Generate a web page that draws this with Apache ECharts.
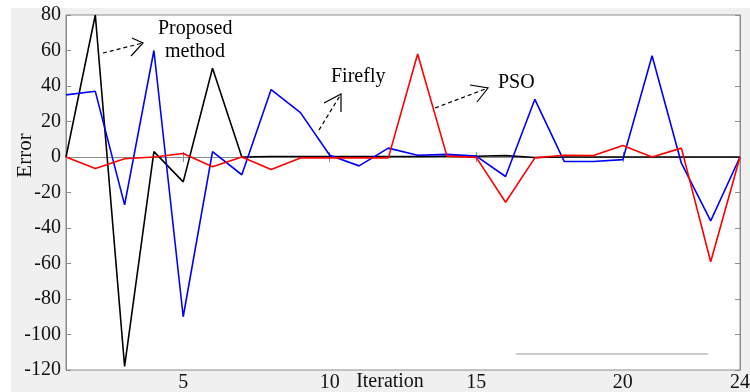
<!DOCTYPE html>
<html>
<head>
<meta charset="utf-8">
<script src="https://cdn.jsdelivr.net/npm/echarts@6/dist/echarts.min.js"></script>
<style>
html,body{margin:0;padding:0;background:#fff;}
#errChart{width:750px;height:392px;}
</style>
</head>
<body>
<div id="errChart"></div>
<script>
// iteration index and the three error curves
var iterations = [1,2,3,4,5,6,7,8,9,10,11,12,13,14,15,16,17,18,19,20,21,22,23,24];
var proposedErr = [0,80,-118,3,-14,50,0,0.3,0.3,0.3,0.3,0.3,0.3,0.4,0.4,0.8,-0.3,0,0,0,0,0,0,0];
var fireflyErr = [35,37,-27,60,-90,3,-10,38,25,1,-5,5,1,1.5,0.5,-11,32.5,-2.5,-2.5,-1.5,57,-3.5,-36,0];
var psoErr = [0,-6.5,-1,0,2,-5.5,0,-7,-0.5,-0.5,-0.5,-0.5,58,0.5,-0.2,-25.5,-0.5,1,0.8,6.5,0,5,-59,0];
var xTickVals = [5,10,15,20];
var xLabelVals = [5,10,15,20,24];

var serif = 'Liberation Serif';
var frameColor = '#8c8c8c';

function pairs(ys){
	var out = [];
	for(var i=0;i<iterations.length;i++){
		out.push([iterations[i], ys[i]]);
	}
	return out;
}

// dashed arrow with open head, pixel coords (annotation only)
function arrow(x1,y1,x2,y2,a1,a2){
	return [{
		type:'line', z:10,
		shape:{x1:x1,y1:y1,x2:x2,y2:y2},
		style:{stroke:'#000',lineWidth:1.2,lineDash:[4,3]}
	},{
		type:'polyline', z:10,
		shape:{points:[a1,[x2,y2],a2]},
		style:{stroke:'#000',lineWidth:1.2,fill:null}
	}];
}

var chart = echarts.init(document.getElementById('errChart'));

var gfx = [{
	type:'rect', z:-10, silent:true,
	shape:{x:11,y:8,width:739,height:384},
	style:{fill:'#f0f0f0'}
},{
	type:'line', z:10,
	shape:{x1:516,y1:354,x2:708,y2:354},
	style:{stroke:'#999',lineWidth:1}
},{
	type:'text', z:10, left:158, top:19,
	style:{text:'Proposed',font:'20px "Liberation Serif"',fill:'#000'}
},{
	type:'text', z:10, left:165, top:42,
	style:{text:'method',font:'20px "Liberation Serif"',fill:'#000'}
},{
	type:'text', z:10, left:331, top:67,
	style:{text:'Firefly',font:'20px "Liberation Serif"',fill:'#000'}
},{
	type:'text', z:10, left:498, top:73,
	style:{text:'PSO',font:'20px "Liberation Serif"',fill:'#000'}
}];
gfx = gfx.concat(arrow(103,53,143,43,[132,38],[131,56]));
gfx = gfx.concat(arrow(319,130,341,94,[324,103],[341,112]));
gfx = gfx.concat(arrow(435,108,488,88,[470,85],[477,102]));

var option = {
	animation:false,
	backgroundColor:'#fff',
	textStyle:{fontFamily:serif},
	grid:{
		left:66, right:10, top:15, bottom:22,
		containLabel:false, outerBoundsMode:'none',
		show:true, backgroundColor:'#fff', borderColor:frameColor, borderWidth:1
	},
	xAxis:[{
		type:'value', min:1, max:24,
		name:'Iteration', nameLocation:'middle', nameGap:2, nameMoveOverlap:false,
		nameTextStyle:{fontFamily:serif,fontSize:20,color:'#111',padding:[0,26,0,0]},
		axisLine:{show:true,lineStyle:{color:frameColor}},
		axisTick:{show:true,inside:true,length:5,customValues:xTickVals,lineStyle:{color:frameColor}},
		axisLabel:{customValues:xLabelVals,fontFamily:serif,fontSize:20,color:'#111',margin:3},
		splitLine:{show:false}
	},{
		type:'value', min:1, max:24, position:'top',
		axisLine:{show:true,lineStyle:{color:frameColor}},
		axisTick:{show:true,inside:true,length:5,customValues:xTickVals,lineStyle:{color:frameColor}},
		axisLabel:{show:false},
		splitLine:{show:false}
	}],
	yAxis:[{
		type:'value', min:-120, max:80, interval:20,
		name:'Error', nameLocation:'middle', nameGap:30, nameRotate:90, nameMoveOverlap:false,
		nameTextStyle:{fontFamily:serif,fontSize:21,color:'#111',padding:[0,0,0,74]},
		axisLine:{show:true,lineStyle:{color:frameColor}},
		axisTick:{show:true,inside:true,length:5,lineStyle:{color:frameColor}},
		axisLabel:{fontFamily:serif,fontSize:20,color:'#111',margin:5},
		splitLine:{show:false}
	},{
		type:'value', min:-120, max:80, interval:20, position:'right',
		axisLine:{show:true,lineStyle:{color:frameColor}},
		axisTick:{show:true,inside:true,length:5,lineStyle:{color:frameColor}},
		axisLabel:{show:false},
		splitLine:{show:false}
	}],
	series:[{
		name:'Proposed method', type:'line', symbol:'none',
		lineStyle:{color:'#000',width:1.6}, itemStyle:{color:'#000'},
		data:pairs(proposedErr)
	},{
		name:'Firefly', type:'line', symbol:'none',
		lineStyle:{color:'#0000ff',width:1.6}, itemStyle:{color:'#0000ff'},
		data:pairs(fireflyErr)
	},{
		name:'PSO', type:'line', symbol:'none',
		lineStyle:{color:'#ff0000',width:1.6}, itemStyle:{color:'#ff0000'},
		data:pairs(psoErr)
	}],
	graphic:gfx
};
chart.setOption(option);
</script>
</body>
</html>
